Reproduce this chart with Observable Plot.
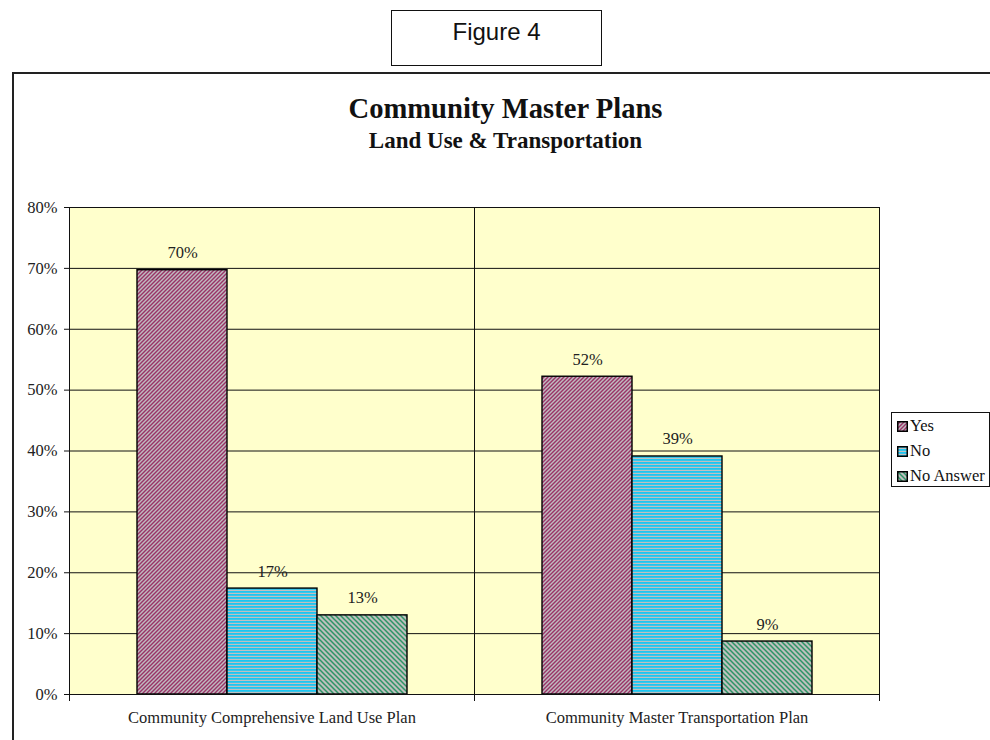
<!DOCTYPE html>
<html><head><meta charset="utf-8">
<script src="https://cdn.jsdelivr.net/npm/d3@7"></script>
<script src="https://cdn.jsdelivr.net/npm/@observablehq/plot@0.6"></script>
<style>
body{margin:0;background:#fff;}
#page{position:relative;width:990px;height:740px;overflow:hidden;font-family:"Liberation Serif",serif;color:#111;}
#figbox{position:absolute;left:391px;top:10px;width:209px;height:54px;border:1.5px solid #111;}
#figtext{position:absolute;left:0;width:100%;top:9px;text-align:center;font:24px/1 "Liberation Sans",Arial,sans-serif;}
#outer{position:absolute;left:12px;top:72px;width:1000px;height:700px;border:2px solid #222;}
#title{position:absolute;left:13px;width:985px;top:95px;text-align:center;font:bold 28.6px/1 "Liberation Serif",serif;}
#subtitle{position:absolute;left:13px;width:985px;top:128.7px;text-align:center;font:bold 23px/1 "Liberation Serif",serif;}
#chart{position:absolute;left:0;top:180px;}
#legend{position:absolute;left:891px;top:412px;width:97px;height:73px;border:1px solid #111;background:#fff;font:16.5px/1 "Liberation Serif",serif;}
.row{position:absolute;left:5px;display:flex;align-items:center;white-space:nowrap;}
.row svg{margin-right:2px;}
</style></head><body>
<div id="page">
  <div id="figbox"><div id="figtext">Figure 4</div></div>
  <div id="outer"></div>
  <div id="title">Community Master Plans</div>
  <div id="subtitle">Land Use &amp; Transportation</div>
  <div id="chart"></div>
  <div id="legend"></div>
</div>
<script>
const categories = ["Community Comprehensive Land Use Plan", "Community Master Transportation Plan"];
const seriesNames = ["Yes", "No", "No Answer"];
const yesValues = [0.697, 0.522];
const noValues = [0.174, 0.391];
const noAnswerValues = [0.130, 0.087];
const yTicks = [0, 0.1, 0.2, 0.3, 0.4, 0.5, 0.6, 0.7, 0.8];

const seriesValues = {"Yes": yesValues, "No": noValues, "No Answer": noAnswerValues};
const patternIds = {"Yes": "pat-yes", "No": "pat-no", "No Answer": "pat-na"};

const data = categories.flatMap((c, i) =>
  seriesNames.map(s => ({category: c, series: s, value: seriesValues[s][i]})));

function buildDefs(defs) {
  const p1 = defs.append("pattern").attr("id", "pat-yes").attr("patternUnits", "userSpaceOnUse")
    .attr("width", 4).attr("height", 4);
  p1.append("rect").attr("width", 4).attr("height", 4).attr("fill", "#C0BAC0");
  p1.append("path").attr("d", "M-1,1 L1,-1 M0,4 L4,0 M3,5 L5,3")
    .attr("stroke", "#993366").attr("stroke-width", 1.4);
  const p2 = defs.append("pattern").attr("id", "pat-no").attr("patternUnits", "userSpaceOnUse")
    .attr("width", 4).attr("height", 3);
  p2.append("rect").attr("width", 4).attr("height", 3).attr("fill", "#C0C0C0");
  p2.append("rect").attr("width", 4).attr("height", 1.8).attr("fill", "#1CC6F2");
  const p3 = defs.append("pattern").attr("id", "pat-na").attr("patternUnits", "userSpaceOnUse")
    .attr("width", 5).attr("height", 5);
  p3.append("rect").attr("width", 5).attr("height", 5).attr("fill", "#BEC0BE");
  p3.append("path").attr("d", "M-1,4 L1,6 M0,0 L5,5 M4,-1 L6,1")
    .attr("stroke", "#2E9466").attr("stroke-width", 1.5);
}

function patternDefs() {
  const defs = d3.create("svg:defs");
  buildDefs(defs);
  return defs.node();
}

const plot = Plot.plot({
  width: 990,
  height: 560,
  marginTop: 27,
  marginBottom: 46,
  marginLeft: 69,
  marginRight: 111,
  style: {fontFamily: "'Liberation Serif', serif", fontSize: "16.5px", color: "#222", background: "transparent", overflow: "visible"},
  fx: {domain: categories, padding: 0, axis: null},
  x: {domain: seriesNames, paddingInner: 0, paddingOuter: 0.75, axis: null},
  y: {domain: [0, 0.8], axis: null},
  marks: [
    patternDefs,
    Plot.frame({fill: "#FFFFCC"}),
    Plot.ruleY(yTicks, {stroke: "#111", strokeWidth: 1}),
    ...seriesNames.map(s => Plot.barY(data.filter(d => d.series === s), {
      fx: "category", x: "series", y: "value",
      fill: `url(#${patternIds[s]})`, stroke: "#000", strokeWidth: 1.4
    })),
    Plot.text(data, {
      fx: "category", x: "series", y: "value",
      text: d => d3.format(".0%")(d.value),
      lineAnchor: "bottom", dy: -12, fill: "#222", fontSize: 16.5
    }),
    Plot.frame({stroke: "#111", strokeWidth: 1}),
    // category tick marks below the x axis
    Plot.frame({anchor: "left", stroke: "#111", insetTop: 487, insetBottom: -6}),
    Plot.frame({anchor: "right", stroke: "#111", insetTop: 487, insetBottom: -6}),
    Plot.axisY({ticks: yTicks, tickFormat: d3.format(".0%"), tickSize: 5, tickPadding: 7, label: null, stroke: "#111"}),
    Plot.axisFx({anchor: "bottom", tickSize: 0, tickPadding: 17, label: null, fontSize: 16.5})
  ]
});
document.getElementById("chart").appendChild(plot);

// legend
const legend = d3.select("#legend");
const rowTops = [5, 30, 55];
seriesNames.forEach((s, i) => {
  const row = legend.append("div").attr("class", "row").style("top", rowTops[i] + "px");
  const sw = row.append("svg").attr("width", 11).attr("height", 11);
  sw.append("rect").attr("x", 0.75).attr("y", 0.75).attr("width", 9.5).attr("height", 9.5)
    .attr("fill", `url(#${patternIds[s]})`).attr("stroke", "#000").attr("stroke-width", 1.5);
  row.append("span").text(s);
});
</script>
</body></html>
